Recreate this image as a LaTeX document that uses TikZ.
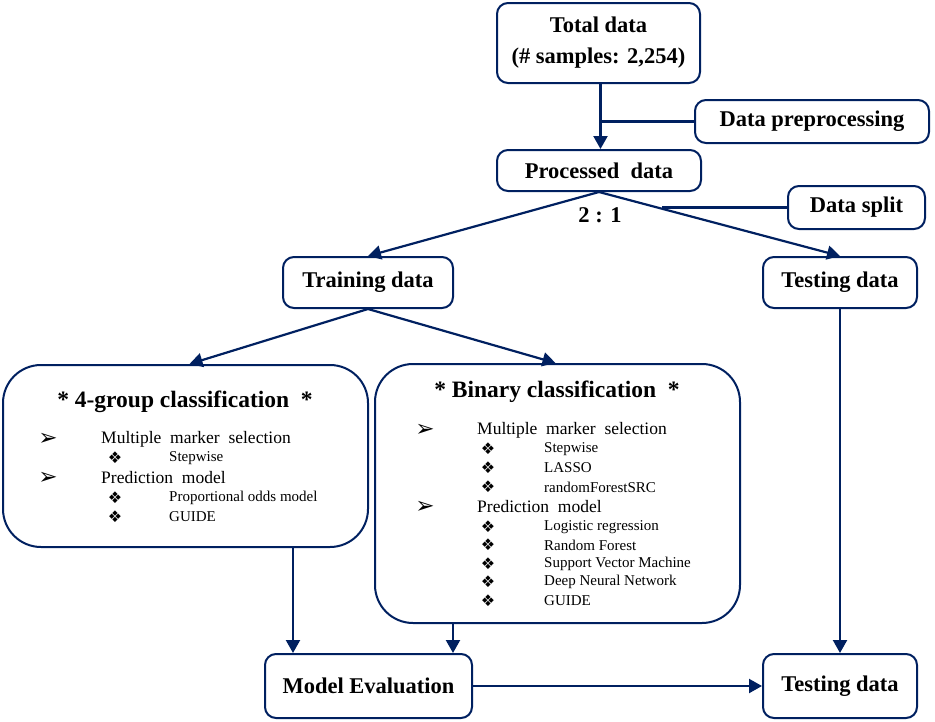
\documentclass[tikz,border=0pt]{standalone}
\usepackage{fontspec}
\setmainfont{Liberation Serif}
\newfontfamily\dv{DejaVu Sans}
\usetikzlibrary{arrows.meta}
\definecolor{navy}{RGB}{0,32,96}
\begin{document}
\begin{tikzpicture}[x=1pt,y=-1pt,
  box/.style={draw=navy,line width=2pt,rounded corners=11pt,fill=white,inner sep=0pt,align=center,font=\fontsize{22.5}{31}\selectfont\bfseries},
  bigbox/.style={draw=navy,line width=2pt,rounded corners=38pt,fill=white,inner sep=0pt},
  arr/.style={draw=navy,line width=2.2pt,-{Triangle[length=13pt,width=14pt]}},
  ln/.style={draw=navy,line width=2.2pt},
  lvA/.style={anchor=west,inner sep=0pt,font=\fontsize{17.5}{20}\selectfont},
  lvB/.style={anchor=west,inner sep=0pt,font=\fontsize{15}{18}\selectfont},
  mkA/.style={anchor=center,inner sep=0pt,font=\dv\fontsize{23}{24}\selectfont},
  mkB/.style={anchor=center,inner sep=0pt,font=\dv\fontsize{16}{18}\selectfont},
  ttl/.style={anchor=center,inner sep=0pt,font=\fontsize{23.5}{26}\selectfont\bfseries}]
\useasboundingbox (0,0) rectangle (935,721);
\node[box,minimum width=203pt,minimum height=80pt] (total) at (598.5,43) {Total data\\(\# samples: 2,254)};
\node[box,minimum width=234pt,minimum height=43pt] (prep) at (812,121.5) {Data preprocessing};
\node[box,minimum width=204pt,minimum height=41pt] (proc) at (599,170.5) {Processed \ data};
\node[box,minimum width=137pt,minimum height=43pt] (split) at (856.5,207.5) {Data split};
\node[inner sep=0pt,font=\fontsize{22.5}{26}\selectfont\bfseries] (ratio) at (600,215) {2 : 1};
\node[box,minimum width=170pt,minimum height=51pt] (train) at (368,282.5) {Training data};
\node[box,minimum width=154pt,minimum height=51pt] (test1) at (840,282.5) {Testing data};
\node[bigbox,minimum width=365pt,minimum height=182pt] (g4) at (185.5,456) {};
\node[bigbox,minimum width=365pt,minimum height=259pt] (bin) at (557.5,493.5) {};
\node[box,minimum width=207pt,minimum height=64pt] (me) at (368.5,686) {Model Evaluation};
\node[box,minimum width=154pt,minimum height=64pt] (test2) at (840,686) {Testing data};

% 4-group contents
\node[ttl] (g4t) at (185,402) {* 4-group classification \ *};
\node[mkA] (g4a1) at (48,439) {➢};
\node[lvA] (g4l1) at (101,439) {Multiple \ marker \ selection};
\node[mkB] (g4b1) at (115,458) {❖};
\node[lvB] (g4s1) at (169,458) {Stepwise};
\node[mkA] (g4a2) at (48,478) {➢};
\node[lvA] (g4l2) at (101,478) {Prediction \ model};
\node[mkB] (g4b2) at (115,498) {❖};
\node[lvB] (g4s2) at (169,498) {Proportional odds model};
\node[mkB] (g4b3) at (115,517) {❖};
\node[lvB] (g4s3) at (169,517) {GUIDE};

% Binary contents
\node[ttl] (bint) at (557,392) {* Binary classification \ *};
\node[mkA] (ba1) at (425,430) {➢};
\node[lvA] (bl1) at (477,430) {Multiple \ marker \ selection};
\node[mkB] (bb1) at (488,449) {❖};
\node[lvB] (bs1) at (544,449) {Stepwise};
\node[mkB] (bb2) at (488,468) {❖};
\node[lvB] (bs2) at (544,468) {LASSO};
\node[mkB] (bb3) at (488,487) {❖};
\node[lvB] (bs3) at (544,487) {randomForestSRC};
\node[mkA] (ba2) at (425,507) {➢};
\node[lvA] (bl2) at (477,507) {Prediction \ model};
\node[mkB] (bb4) at (488,527) {❖};
\node[lvB] (bs4) at (544,527) {Logistic regression};
\node[mkB] (bb5) at (488,545) {❖};
\node[lvB] (bs5) at (544,545) {Random Forest};
\node[mkB] (bb6) at (488,564) {❖};
\node[lvB] (bs6) at (544,564) {Support Vector Machine};
\node[mkB] (bb7) at (488,582) {❖};
\node[lvB] (bs7) at (544,582) {Deep Neural Network};
\node[mkB] (bb8) at (488,601) {❖};
\node[lvB] (bs8) at (544,601) {GUIDE};

% connectors
\coordinate (tdown) at ([xshift=2pt]total.south);
\coordinate (pup) at ([xshift=1.5pt]proc.north);
\draw[arr] (tdown) -- (pup);
\draw[ln] (prep.west) -- (prep.west -| tdown);
\draw[arr] (proc.south) -- (train.north);
\draw[arr] (proc.south) -- (test1.north);
\path (proc.south) -- (test1.north) coordinate[pos=0.26] (jsplit);
\draw[ln] (split.west) -- (split.west -| jsplit);
\draw[arr] (train.south) -- ([xshift=4pt]g4.north);
\draw[arr] (train.south) -- ([xshift=-2pt]bin.north);
\draw[arr] (test1.south) -- (test2.north);
\coordinate (meL) at ([xshift=-75.5pt]me.north);
\coordinate (meR) at ([xshift=84.5pt]me.north);
\draw[arr] (meL |- g4.south) -- (meL);
\draw[arr] (meR |- bin.south) -- (meR);
\draw[arr] (me.east) -- (test2.west);
\end{tikzpicture}
\end{document}
